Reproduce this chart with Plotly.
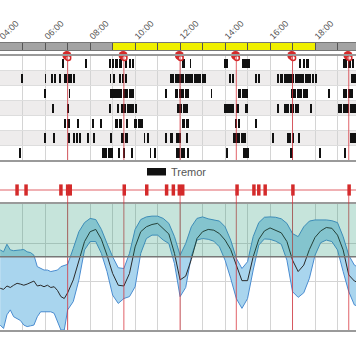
import plotly.graph_objects as go
from datetime import datetime, timedelta

DAY = "2024-01-01"

# ---------------- data ----------------
period_start = ["03:00", "09:00", "18:00"]
period_end = ["09:00", "18:00", "21:00"]
period_kind = ["night", "day", "night"]

dose_times = ["07:00", "09:30", "12:00", "14:30", "17:00", "19:30"]

event_times = ["04:45", "05:09", "06:42", "07:00", "07:07", "09:31", "10:31", "11:24",
               "11:42", "11:58", "12:07", "14:32", "15:17", "15:30", "15:47", "17:01", "19:31"]

tremor_row1 = [("06:47", "06:49"), ("07:48", "07:50"), ("08:49", "08:55"), ("08:57", "09:04"),
               ("09:06", "09:13"), ("09:18", "09:24"), ("09:33", "09:37"), ("09:45", "09:48"),
               ("09:54", "09:56"), ("12:05", "12:14"), ("12:27", "12:29"), ("13:58", "14:07"),
               ("14:45", "15:07"), ("17:18", "17:23"), ("17:27", "17:33"), ("17:36", "17:45"),
               ("19:14", "19:25"), ("19:27", "19:36"), ("19:40", "19:42")]
tremor_row2 = [("04:58", "05:00"), ("06:00", "06:02"), ("06:18", "06:20"), ("06:24", "06:29"),
               ("06:36", "06:42"), ("06:49", "06:58"), ("07:00", "07:12"), ("07:14", "07:20"),
               ("08:53", "08:55"), ("09:00", "09:07"), ("09:16", "09:23"), ("09:25", "09:31"),
               ("09:34", "09:38"), ("11:33", "11:45"), ("11:47", "12:10"), ("12:12", "12:35"),
               ("12:38", "12:55"), ("12:58", "13:09"), ("14:12", "14:17"), ("14:20", "14:25"),
               ("15:21", "15:24"), ("15:28", "15:32"), ("16:20", "16:22"), ("16:29", "16:34"),
               ("16:38", "17:05"), ("17:07", "17:30"), ("17:32", "17:49"), ("17:54", "17:57"),
               ("18:00", "18:03"), ("19:36", "19:49")]
tremor_row3 = [("05:58", "06:00"), ("07:04", "07:06"), ("08:53", "09:08"), ("09:10", "09:25"),
               ("09:28", "09:40"), ("09:44", "09:56"), ("11:21", "11:23"), ("11:47", "11:54"),
               ("11:56", "12:10"), ("12:12", "12:25"), ("13:23", "13:25"), ("14:34", "14:42"),
               ("14:45", "15:00"), ("16:56", "17:10"), ("17:12", "17:25"), ("17:28", "17:40"),
               ("18:36", "18:38"), ("19:14", "19:24"), ("19:27", "19:40")]
tremor_row4 = [("06:20", "06:22"), ("06:58", "07:04"), ("08:52", "08:54"), ("09:13", "09:18"),
               ("09:22", "09:35"), ("09:37", "09:48"), ("09:50", "09:56"), ("10:00", "10:04"),
               ("11:51", "12:05"), ("12:07", "12:20"), ("13:57", "14:12"), ("14:14", "14:25"),
               ("14:29", "14:37"), ("14:52", "15:00"), ("16:20", "16:22"), ("16:36", "16:50"),
               ("16:52", "17:05"), ("17:07", "17:18"), ("17:49", "17:51"), ("19:00", "19:12"),
               ("19:14", "19:30"), ("19:32", "19:49")]
tremor_row5 = [("06:49", "06:55"), ("07:00", "07:05"), ("07:26", "07:28"), ("08:07", "08:09"),
               ("08:28", "08:30"), ("09:07", "09:14"), ("09:16", "09:24"), ("09:38", "09:40"),
               ("09:56", "10:04"), ("10:09", "10:20"), ("12:05", "12:12"), ("12:16", "12:25"),
               ("14:28", "14:30"), ("14:34", "14:40"), ("15:21", "15:23")]
tremor_row6 = [("05:58", "06:00"), ("06:22", "06:24"), ("07:02", "07:04"), ("07:16", "07:20"),
               ("07:24", "07:26"), ("07:32", "07:34"), ("07:53", "07:55"), ("08:09", "08:13"),
               ("08:55", "08:59"), ("09:22", "09:30"), ("09:32", "09:42"), ("10:24", "10:26"),
               ("10:34", "10:36"), ("11:20", "11:23"), ("11:33", "11:42"), ("11:49", "11:56"),
               ("11:58", "12:00"), ("12:16", "12:20"), ("14:22", "14:40"), ("14:42", "14:56"),
               ("16:07", "16:09"), ("16:45", "16:56"), ("17:00", "17:05"), ("17:14", "17:20"),
               ("19:32", "19:49")]
tremor_row7 = [("04:52", "04:54"), ("08:31", "08:45"), ("08:47", "09:02"), ("09:16", "09:18"),
               ("09:29", "09:31"), ("09:51", "09:53"), ("10:40", "10:42"), ("10:53", "10:55"),
               ("11:49", "12:00"), ("12:02", "12:12"), ("12:20", "12:25"), ("14:03", "14:07"),
               ("14:47", "15:05"), ("16:54", "17:00"), ("18:13", "18:15"), ("19:18", "19:20")]

score_times = ["04:00", "04:09", "04:18", "04:27", "04:36", "04:45", "04:54", "05:03", "05:12",
               "05:21", "05:30", "05:39", "05:48", "05:57", "06:06", "06:15", "06:24", "06:33",
               "06:42", "06:51", "07:00", "07:15", "07:30", "07:45", "08:00", "08:15", "08:30",
               "08:45", "09:00", "09:15", "09:30", "09:45", "10:00", "10:15", "10:30", "10:45",
               "11:00", "11:15", "11:30", "11:45", "12:00", "12:15", "12:30", "12:45", "13:00",
               "13:15", "13:30", "13:45", "14:00", "14:15", "14:30", "14:45", "15:00", "15:15",
               "15:30", "15:45", "16:00", "16:15", "16:30", "16:45", "17:00", "17:15", "17:30",
               "17:45", "18:00", "18:15", "18:30", "18:45", "19:00", "19:15", "19:30", "19:45",
               "20:00"]
score_median = [0.81, 0.78, 0.87, 0.83, 0.89, 0.94, 0.92, 0.89, 0.92, 0.96, 1.00, 0.87, 0.89,
                0.85, 0.89, 0.83, 0.85, 0.75, 0.59, 0.54, 0.69, 1.03, 1.55, 2.04, 2.30, 2.36,
                2.10, 1.68, 1.20, 0.89, 0.87, 1.20, 1.90, 2.30, 2.43, 2.49, 2.52, 2.39, 2.24,
                1.73, 1.03, 1.13, 1.57, 2.12, 2.30, 2.36, 2.34, 2.25, 2.08, 1.83, 1.42, 1.01,
                1.01, 1.64, 2.10, 2.32, 2.40, 2.34, 2.27, 2.04, 1.55, 1.25, 1.42, 1.83, 2.15,
                2.32, 2.41, 2.39, 2.21, 1.82, 1.16, 1.00, 0.94]
score_upper = [1.82, 1.77, 1.97, 1.82, 1.80, 1.82, 1.82, 1.83, 1.77, 1.75, 1.68, 1.38, 1.33,
               1.29, 1.29, 1.25, 1.27, 1.29, 1.38, 1.42, 1.44, 1.86, 2.30, 2.54, 2.65, 2.62,
               2.36, 1.99, 1.64, 1.35, 1.33, 1.73, 2.36, 2.62, 2.69, 2.71, 2.71, 2.65, 2.52,
               2.17, 1.68, 1.99, 2.43, 2.65, 2.69, 2.64, 2.61, 2.58, 2.43, 2.08, 1.60, 1.33,
               1.51, 2.17, 2.54, 2.68, 2.69, 2.68, 2.64, 2.52, 2.25, 2.17, 2.43, 2.58, 2.61,
               2.61, 2.61, 2.59, 2.54, 2.17, 1.68, 1.42, 1.33]
score_lower = [-0.16, -0.25, 0.11, 0.24, 0.06, 0.02, -0.04, -0.16, -0.20, -0.18, -0.16, 0.06,
               0.19, 0.19, 0.19, 0.19, 0.15, -0.07, -0.29, -0.29, 0.24, 0.46, 1.03, 1.82, 2.04,
               2.04, 1.73, 1.25, 0.63, 0.41, 0.54, 0.59, 0.85, 1.73, 2.12, 2.21, 2.21, 2.08,
               1.99, 1.46, 0.59, 0.83, 1.66, 2.08, 2.12, 2.10, 2.05, 1.90, 1.55, 1.07, 0.54,
               0.28, 0.54, 1.29, 1.95, 2.11, 2.10, 2.05, 1.97, 1.55, 0.72, 0.57, 0.69, 1.07,
               1.68, 2.01, 2.08, 2.04, 1.82, 1.25, 0.72, 0.37, 0.32]
target_low = 1.64
score_grid = [1, 2]
legend_label = "Tremor"

# ---------------- helpers ----------------
def ts(hhmm):
    return datetime.strptime(f"{DAY} {hhmm}", "%Y-%m-%d %H:%M")

def ms(a, b):
    return (ts(b) - ts(a)).total_seconds() * 1000

H, T, B = 364, 43, 34
def frac(px):
    return (H - B - px) / (H - T - B)

RED = "#d42a2a"
RED_LINE = "rgba(215,45,55,0.75)"
GRID = "#d4d4d4"
BORDER = "#9a9a9a"

fig = go.Figure()

# day/night bar
period_color = {"night": "#a3a3a3", "day": "#f0f000"}
fig.add_trace(go.Bar(
    orientation="h", y=[0] * len(period_start),
    base=[ts(s) for s in period_start],
    x=[ms(s, e) for s, e in zip(period_start, period_end)],
    width=1, marker=dict(color=[period_color[k] for k in period_kind], line=dict(width=0)),
    xaxis="x", yaxis="y", showlegend=False, hoverinfo="skip"))

# tremor raster
rows = [tremor_row1, tremor_row2, tremor_row3, tremor_row4, tremor_row5, tremor_row6, tremor_row7]
ry, rb, rx = [], [], []
for i, row in enumerate(rows, start=1):
    for s, e in row:
        ry.append(i)
        rb.append(ts(s))
        rx.append(ms(s, e))
fig.add_trace(go.Bar(orientation="h", y=ry, base=rb, x=rx, width=0.62,
                     marker=dict(color="#111111", line=dict(width=0)),
                     xaxis="x2", yaxis="y2", showlegend=False, name=legend_label))

# dose markers
dose_dt = [ts(t) for t in dose_times]
fig.add_trace(go.Scatter(x=[d - timedelta(minutes=2) for d in dose_dt], y=[0.5] * len(dose_dt),
                         mode="markers", marker=dict(symbol="circle", size=9, color=RED),
                         xaxis="x2", yaxis="y2", cliponaxis=False, showlegend=False))
fig.add_trace(go.Scatter(x=[d + timedelta(minutes=1.5) for d in dose_dt], y=[0.66] * len(dose_dt),
                         mode="markers", marker=dict(symbol="circle", size=5, color="white",
                                                     line=dict(color=RED, width=1.5)),
                         xaxis="x2", yaxis="y2", cliponaxis=False, showlegend=False))

# events
fig.add_trace(go.Scatter(x=[ts(t) for t in event_times], y=[0.5] * len(event_times),
                         mode="markers",
                         marker=dict(symbol="line-ns", size=8, color=RED,
                                     line=dict(color=RED, width=3.5)),
                         xaxis="x3", yaxis="y3", showlegend=False))

# score band
sx = [ts(t) for t in score_times]
fig.add_trace(go.Scatter(x=sx, y=score_lower, mode="lines",
                         line=dict(color="#4a8cd0", width=1), xaxis="x4", yaxis="y4",
                         showlegend=False))
fig.add_trace(go.Scatter(x=sx, y=score_upper, mode="lines", fill="tonexty",
                         fillcolor="#a9d5ee", line=dict(color="#4a8cd0", width=1),
                         xaxis="x4", yaxis="y4", showlegend=False))
fig.add_trace(go.Scatter(x=sx, y=score_median, mode="lines",
                         line=dict(color="#2a2a2a", width=1), xaxis="x4", yaxis="y4",
                         showlegend=False))

shapes = []
for r in (2, 4, 6):
    shapes.append(dict(type="rect", xref="x2 domain", yref="y2", x0=0, x1=1,
                       y0=r - 0.5, y1=r + 0.5, fillcolor="#eeecec", line=dict(width=0),
                       layer="below"))
for d in dose_dt:
    shapes.append(dict(type="line", xref="x2", yref="y2", x0=d, x1=d, y0=0.5, y1=7.5,
                       line=dict(color=RED_LINE, width=1)))
    shapes.append(dict(type="line", xref="x4", yref="paper", x0=d, x1=d, y0=0, y1=frac(190),
                       line=dict(color=RED_LINE, width=1)))
shapes.append(dict(type="line", xref="paper", yref="y3", x0=0, x1=1, y0=0.5, y1=0.5,
                   line=dict(color=RED_LINE, width=1), layer="below"))
shapes.append(dict(type="rect", xref="x4 domain", yref="y4", x0=0, x1=1, y0=target_low,
                   y1=3.03, fillcolor="rgba(17,142,104,0.24)", line=dict(width=0),
                   layer="above"))
shapes.append(dict(type="line", xref="x4 domain", yref="y4", x0=0, x1=1, y0=target_low,
                   y1=target_low, line=dict(color="#777777", width=1.5), layer="above"))
shapes.append(dict(type="rect", xref="paper", yref="paper", x0=147 / 356, x1=166 / 356,
                   y0=frac(175.5), y1=frac(168), fillcolor="#111111", line=dict(width=0)))

xr = [datetime(2024, 1, 1, 3, 59, 30), datetime(2024, 1, 1, 19, 49, 20)]
HOUR = 3600000
common_hidden = dict(showticklabels=False, ticks="", zeroline=False)

fig.update_layout(
    width=356, height=364, margin=dict(l=0, r=0, t=T, b=B),
    paper_bgcolor="white", plot_bgcolor="white",
    font=dict(family="Liberation Sans, Arial, sans-serif", color="#555555"),
    bargap=0, barmode="overlay",
    shapes=shapes,
    annotations=[dict(text=legend_label, xref="paper", yref="paper", x=169 / 356,
                      y=frac(172), xanchor="left", yanchor="middle", showarrow=False,
                      font=dict(size=11, color="#555555"))],
    xaxis=dict(domain=[0, 1], anchor="y", side="top", type="date", range=xr,
               tickformat="%H:%M", dtick=2 * HOUR, tick0="2024-01-01 00:00",
               tickangle=-45, ticks="inside", ticklen=7, tickcolor="#555555",
               tickfont=dict(size=9, color="#555555"), automargin=False,
               ticklabeloverflow="allow", ticklabelstandoff=-3,
               minor=dict(dtick=HOUR, ticks="inside", ticklen=7, tickcolor="#555555",
                          showgrid=False),
               showgrid=False, showline=True, mirror=True, linecolor="#777777",
               linewidth=1, zeroline=False),
    yaxis=dict(domain=[frac(50), frac(43)], range=[-0.5, 0.5], visible=False),
    xaxis2=dict(matches="x", anchor="y2", type="date", dtick=HOUR,
                tick0="2024-01-01 00:00", showgrid=True, gridcolor=GRID, showline=True,
                mirror=True, linecolor=BORDER, linewidth=1.5, **common_hidden),
    yaxis2=dict(domain=[frac(160), frac(55.5)], range=[7.5, 0.5],
                tickvals=[1.5, 2.5, 3.5, 4.5, 5.5, 6.5], showgrid=True, gridcolor="#dddddd",
                **common_hidden),
    xaxis3=dict(matches="x", anchor="y3", type="date", visible=False),
    yaxis3=dict(domain=[frac(200), frac(180)], range=[0, 1], visible=False),
    xaxis4=dict(matches="x", anchor="y4", type="date", dtick=HOUR,
                tick0="2024-01-01 00:00", showgrid=True, gridcolor=GRID, showline=True,
                mirror=True, linecolor=BORDER, linewidth=1.5, **common_hidden),
    yaxis4=dict(domain=[0, frac(204)], range=[-0.29, 3.03], tickvals=score_grid,
                showgrid=True, gridcolor=GRID, **common_hidden),
)

fig.write_html("out.html", config={"displayModeBar": False},
               post_script="document.body.style.margin='0';")
